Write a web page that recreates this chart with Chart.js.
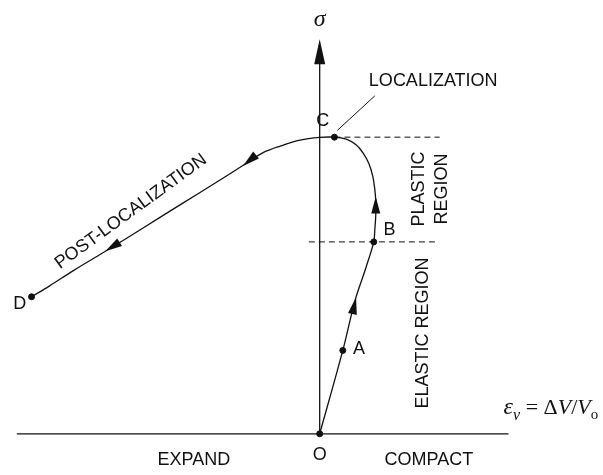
<!DOCTYPE html>
<html>
<head>
<meta charset="utf-8">
<script src="https://cdn.jsdelivr.net/npm/chart.js@4"></script>
<style>
  body { margin: 0; background: #fff; }
  canvas { display: block; }
</style>
</head>
<body>
<canvas id="sketch" width="603" height="475"></canvas>
<script>
// volumetric strain (x) vs stress (y)
var strainPath = [0, 0.235, 0.36, 0.47, 0.55, 0.56, 0.57, 0.57, 0.56, 0.54, 0.50, 0.44, 0.37, 0.27, 0.15,
                  0, -0.20, -0.40, -0.58, -0.75, -1.05, -1.40, -1.80, -2.20, -2.50, -2.75, -2.93];
var stressPath = [0, 0.281, 0.45, 0.56, 0.647, 0.686, 0.736, 0.785, 0.825, 0.868, 0.911, 0.947, 0.974, 0.993, 1.0,
                  0.999, 0.990, 0.970, 0.947, 0.911, 0.848, 0.776, 0.693, 0.611, 0.551, 0.498, 0.462];

var pointNames = ['O', 'A', 'B', 'C', 'D'];
var pointStrain = [0, 0.235, 0.55, 0.15, -2.93];
var pointStress = [0, 0.281, 0.647, 1.0, 0.462];

// arrows along the path: [fromX, fromY, toX, toY]
var pathArrows = [
  [0.33, 0.40, 0.37, 0.46],
  [0.57, 0.74, 0.57, 0.80],
  [-0.70, 0.925, -0.78, 0.903],
  [-2.10, 0.632, -2.18, 0.615]
];

var yieldLevels = [1.0, 0.647];   // C and B

var xMin = -3.2, xMax = 2.83, yMin = -0.122, yMax = 1.4455;

function pairs(xs, ys) {
  var out = [];
  for (var i = 0; i < xs.length; i++) out.push({x: xs[i], y: ys[i]});
  return out;
}

var blk = '#111';
var sans = '"Liberation Sans", Arial, sans-serif';

var decor = {
  id: 'decor',
  afterDatasetsDraw: function(chart) {
    var ctx = chart.ctx;
    var sx = chart.scales.x, sy = chart.scales.y;
    function px(v) { return sx.getPixelForValue(v); }
    function py(v) { return sy.getPixelForValue(v); }

    function head(x0, y0, x1, y1, len, half) {
      var ax = px(x0), ay = py(y0), bx = px(x1), by = py(y1);
      var a = Math.atan2(by - ay, bx - ax);
      ctx.save();
      ctx.translate(bx, by);
      ctx.rotate(a);
      ctx.beginPath();
      ctx.moveTo(0, 0);
      ctx.lineTo(-len, -half);
      ctx.lineTo(-len, half);
      ctx.closePath();
      ctx.fillStyle = blk;
      ctx.fill();
      ctx.restore();
    }

    pathArrows.forEach(function(a) { head(a[0], a[1], a[2], a[3], 17, 4.5); });
    head(0, 1.2, 0, 1.33, 25, 5.5);

    function txt(s, x, y, opt) {
      opt = opt || {};
      ctx.save();
      ctx.translate(px(x), py(y));
      if (opt.rot) ctx.rotate(opt.rot * Math.PI / 180);
      ctx.font = opt.font || '18px ' + sans;
      ctx.fillStyle = blk;
      ctx.textAlign = opt.align || 'center';
      ctx.textBaseline = opt.base || 'middle';
      ctx.fillText(s, 0, 0);
      ctx.restore();
    }

    txt('O', 0, -0.070);
    txt('A', 0.40, 0.285);
    txt('B', 0.71, 0.686);
    txt('C', 0.03, 1.056);
    txt('D', -3.05, 0.439);
    txt('LOCALIZATION', 0.50, 1.188, {align: 'left'});
    txt('POST-LOCALIZATION', -1.92, 0.749, {rot: -36});
    txt('EXPAND', -1.28, -0.089);
    txt('COMPACT', 1.11, -0.089);
    txt('ELASTIC REGION', 1.05, 0.340, {rot: -90});
    txt('PLASTIC', 1.01, 0.825, {rot: -90});
    txt('REGION', 1.24, 0.825, {rot: -90});
    txt('\u03c3', 0, 1.396, {font: 'italic 24px "Liberation Serif", "Times New Roman", serif'});

    // epsilon_v = dV / V_o
    var serif = '"Liberation Serif", "Times New Roman", serif';
    var x = px(1.87), base = py(0.066);
    var parts = [
      ['\u03b5', 'italic 24px ' + serif, 0],
      ['\u03bd', 'italic 16px ' + serif, 6],
      [' = \u0394', '22px ' + serif, 0],
      ['V', 'italic 22px ' + serif, 0],
      ['/', '22px ' + serif, 0],
      ['V', 'italic 22px ' + serif, 0],
      ['o', '15px ' + serif, 5]
    ];
    ctx.save();
    ctx.fillStyle = blk;
    ctx.textBaseline = 'alphabetic';
    ctx.textAlign = 'left';
    parts.forEach(function(p) {
      ctx.font = p[1];
      ctx.fillText(p[0], x, base + p[2]);
      x += ctx.measureText(p[0]).width;
    });
    ctx.restore();
  }
};

var lineStyle = {showLine: true, pointRadius: 0, borderColor: blk, borderWidth: 1.3, fill: false};

new Chart(document.getElementById('sketch'), {
  type: 'scatter',
  data: {
    datasets: [
      Object.assign({label: 'axis x', data: [{x: -3.08, y: 0}, {x: 1.92, y: 0}]}, lineStyle),
      Object.assign({label: 'axis y', data: [{x: 0, y: 0}, {x: 0, y: 1.25}]}, lineStyle),
      Object.assign({label: 'C level', data: [{x: 0.15, y: yieldLevels[0]}, {x: 1.22, y: yieldLevels[0]}]}, lineStyle, {borderDash: [6, 4], borderWidth: 1}),
      Object.assign({label: 'B level', data: [{x: -0.11, y: yieldLevels[1]}, {x: 1.20, y: yieldLevels[1]}]}, lineStyle, {borderDash: [6, 4], borderWidth: 1}),
      Object.assign({label: 'leader', data: [{x: 0.18, y: 1.023}, {x: 0.56, y: 1.139}]}, lineStyle, {borderWidth: 1}),
      Object.assign({label: 'path', data: pairs(strainPath, stressPath), tension: 0.35}, lineStyle),
      {label: 'points', data: pairs(pointStrain, pointStress), pointRadius: 3, pointBackgroundColor: blk, pointBorderColor: blk, showLine: false}
    ]
  },
  options: {
    responsive: false,
    animation: false,
    devicePixelRatio: 1,
    layout: {padding: 0},
    plugins: {legend: {display: false}, tooltip: {enabled: false}},
    scales: {
      x: {type: 'linear', display: false, min: xMin, max: xMax},
      y: {type: 'linear', display: false, min: yMin, max: yMax}
    }
  },
  plugins: [decor]
});
</script>
</body>
</html>
